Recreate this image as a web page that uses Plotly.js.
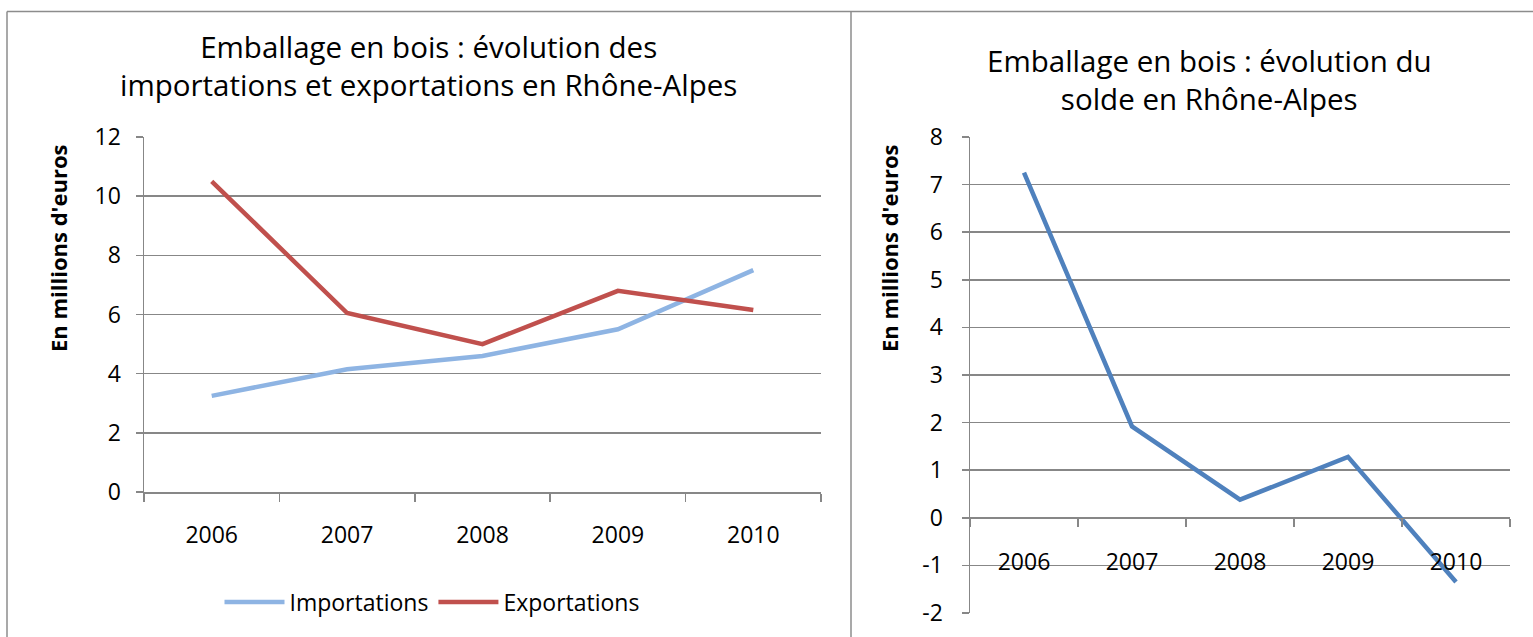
<!DOCTYPE html>
<html>
<head>
<meta charset="utf-8">
<script src="https://cdn.plot.ly/plotly-3.0.1.min.js"></script>
<style>html,body{margin:0;padding:0;background:#fff;}#chart{width:1533px;height:637px;}</style>
</head>
<body>
<div id="chart"></div>
<script>
const years = ['2006', '2007', '2008', '2009', '2010'];
const importations = [3.25, 4.15, 4.6, 5.5, 7.5];
const exportations = [10.5, 6.05, 5.0, 6.8, 6.15];
const solde = [7.25, 1.92, 0.38, 1.28, -1.35];
const leftTicks = [0, 2, 4, 6, 8, 10, 12];
const rightTickVals = [-2, -1, 0, 1, 2, 3, 4, 5, 6, 7, 8];
const rightTickText = ['-2', '-1', '0', '1', '2', '3', '4', '5', '6', '7', '8'];

const W = 1533, H = 637;
const px = v => v / W, py = v => 1 - v / H;
const grid = '#878787';
const FONT = 'Open Sans, sans-serif';
const TICK = 23;

const traces = [
  {x: years, y: importations, name: 'Importations', type: 'scatter', mode: 'lines',
   line: {color: '#8EB4E3', width: 4.5}, xaxis: 'x', yaxis: 'y'},
  {x: years, y: exportations, name: 'Exportations', type: 'scatter', mode: 'lines',
   line: {color: '#C0504D', width: 4.5}, xaxis: 'x', yaxis: 'y'},
  {x: years, y: solde, name: 'Solde', type: 'scatter', mode: 'lines', showlegend: false,
   line: {color: '#4F81BD', width: 4.5}, xaxis: 'x2', yaxis: 'y2'}
];

const yDom2 = [py(613), py(137)];
const zeroPos = yDom2[0] + (0 - (-2)) / 10 * (yDom2[1] - yDom2[0]);

const layout = {
  width: W, height: H,
  margin: {l: 0, r: 0, t: 0, b: 0},
  paper_bgcolor: '#fff', plot_bgcolor: '#fff',
  font: {family: FONT, color: '#000', size: TICK},
  showlegend: true,
  legend: {orientation: 'h', x: px(432), xanchor: 'center', y: py(602), yanchor: 'middle',
           font: {size: 23, family: FONT}, itemwidth: 60, tracegroupgap: 0},
  xaxis: {domain: [px(144), px(821)], type: 'category', range: [-0.5, 4.5],
          showline: true, linecolor: grid, linewidth: 1.5, ticks: 'outside', tickson: 'boundaries',
          ticklen: 8, tickcolor: grid, tickwidth: 1.5, showgrid: false,
          ticklabelstandoff: 22, tickfont: {size: TICK}, anchor: 'y', fixedrange: true},
  yaxis: {domain: [py(492), py(137)], range: [0, 12], tickvals: leftTicks,
          showline: true, linecolor: grid, linewidth: 1.5, ticks: 'outside', ticklen: 7,
          tickcolor: grid, tickwidth: 1.5, showgrid: true, gridcolor: grid, gridwidth: 1.5,
          zeroline: false, ticklabelstandoff: 10, tickfont: {size: TICK}, anchor: 'x'},
  xaxis2: {domain: [px(970), px(1510)], type: 'category', range: [-0.5, 4.5],
           anchor: 'free', position: zeroPos,
           showline: true, linecolor: grid, linewidth: 1.5, ticks: 'outside', tickson: 'boundaries',
           ticklen: 8, tickcolor: grid, tickwidth: 1.5, showgrid: false,
           ticklabelstandoff: 23, tickfont: {size: TICK}},
  yaxis2: {domain: yDom2, range: [-2, 8], tickvals: rightTickVals, ticktext: rightTickText,
           showline: true, linecolor: grid, linewidth: 1.5, ticks: 'outside', ticklen: 7,
           tickcolor: grid, tickwidth: 1.5, showgrid: true, gridcolor: grid, gridwidth: 1.5,
           zeroline: false, ticklabelstandoff: 14, tickfont: {size: TICK}, anchor: 'x2'},
  annotations: [
    {xref: 'paper', yref: 'paper', x: px(428), y: py(65), xanchor: 'center', yanchor: 'middle',
     text: 'Emballage en bois : évolution des<br>importations et exportations en Rhône-Alpes',
     showarrow: false, font: {size: 29.5, family: FONT}},
    {xref: 'paper', yref: 'paper', x: px(1209), y: py(79), xanchor: 'center', yanchor: 'middle',
     text: 'Emballage en bois : évolution du<br>solde en Rhône-Alpes',
     showarrow: false, font: {size: 29.5, family: FONT}},
    {xref: 'paper', yref: 'paper', x: px(58), y: py(248), xanchor: 'center', yanchor: 'middle',
     text: "En millions d'euros", textangle: -90, showarrow: false,
     font: {size: 22, family: FONT, weight: 'bold'}},
    {xref: 'paper', yref: 'paper', x: px(889), y: py(248), xanchor: 'center', yanchor: 'middle',
     text: "En millions d'euros", textangle: -90, showarrow: false,
     font: {size: 22, family: FONT, weight: 'bold'}}
  ],
  shapes: [
    {type: 'line', xref: 'paper', yref: 'paper', x0: px(7), x1: 1, y0: py(11.5), y1: py(11.5),
     line: {color: '#8c8c8c', width: 1.5}},
    {type: 'line', xref: 'paper', yref: 'paper', x0: px(7), x1: px(7), y0: py(11.5), y1: 0,
     line: {color: '#8c8c8c', width: 1.5}},
    {type: 'line', xref: 'paper', yref: 'paper', x0: px(851), x1: px(851), y0: py(11.5), y1: 0,
     line: {color: '#8c8c8c', width: 1.5}}
  ]
};

Plotly.newPlot('chart', traces, layout, {displayModeBar: false, staticPlot: true});
</script>
</body>
</html>
